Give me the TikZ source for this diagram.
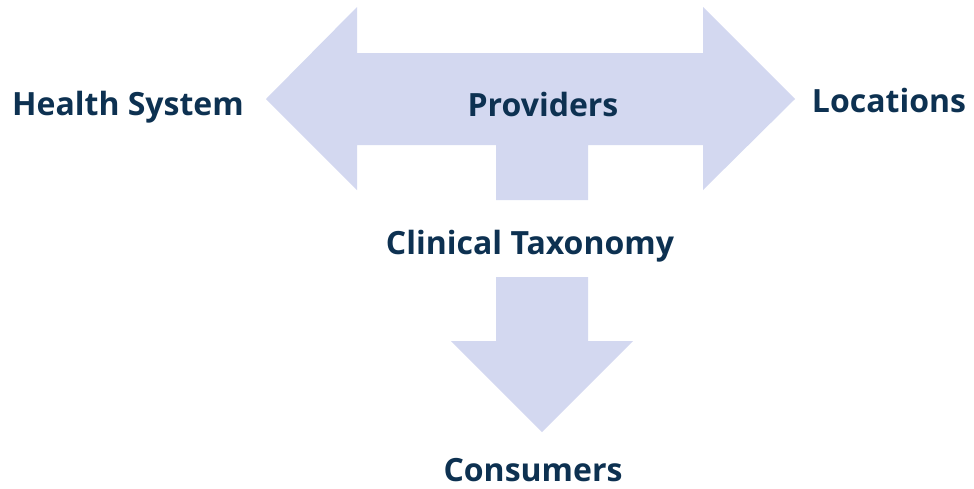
\documentclass[tikz,border=0pt]{standalone}
\usepackage{fontspec}
\setmainfont{Open Sans}
\usepackage{tikz}
\definecolor{arrowfill}{HTML}{D3D8F0}
\definecolor{labelnavy}{HTML}{0D3151}

\begin{document}
\begin{tikzpicture}[x=1pt,y=-1pt,inner sep=0pt,
    lbl/.style={anchor=base,text=labelnavy,font=\fontsize{32}{38}\selectfont\bfseries},
    blockarrow/.style={fill=arrowfill,draw=none}]
\useasboundingbox (0,0) rectangle (974,488);
\fill[blockarrow] (266,99) -- (357,7) -- (357,53) -- (703,53) -- (703,7) -- (795,99) -- (703,190) -- (703,145)
    -- (588,145) -- (588,200) -- (496,200) -- (496,145) -- (357,145) -- (357,190) -- cycle;
\fill[blockarrow] (496,277) -- (588,277) -- (588,341) -- (633,341) -- (542,432) -- (451,341) -- (496,341) -- cycle;
\draw (128,115) node[lbl](health) {Health System};
\draw (543,116) node[lbl](providers) {Providers};
\draw (889,112) node[lbl](locations) {Locations};
\draw (530,254) node[lbl](taxonomy) {Clinical Taxonomy};
\draw (533,481) node[lbl](consumers) {Consumers};
\end{tikzpicture}
\end{document}
